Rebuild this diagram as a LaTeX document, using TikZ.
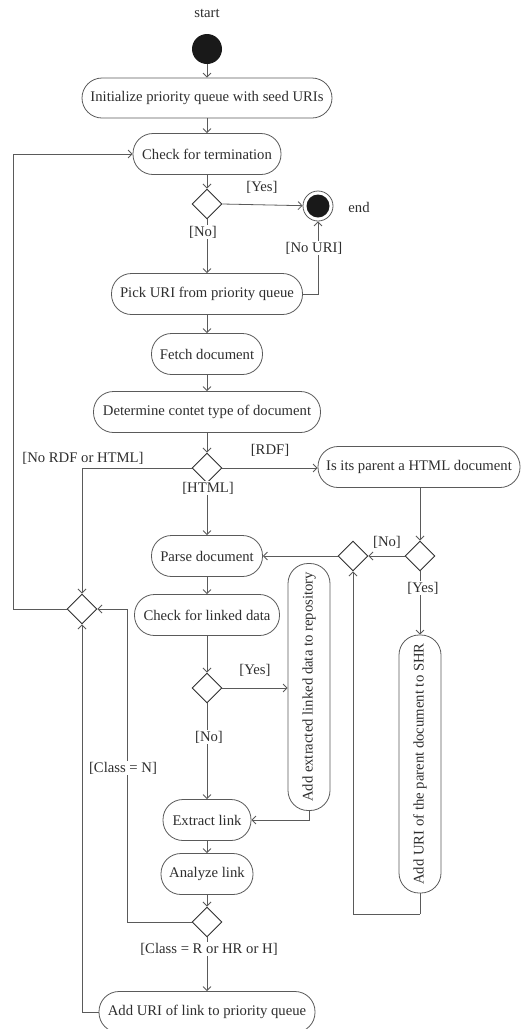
\documentclass[tikz,border=0pt]{standalone}
\usepackage{fontspec}
\setmainfont{Liberation Serif}
\usetikzlibrary{shapes.geometric,arrows.meta,calc}
\definecolor{ln}{HTML}{5A5A5A}
\definecolor{tx}{HTML}{2E2E2E}
\begin{document}
\begin{tikzpicture}[x=1pt,y=1pt,
  font=\fontsize{14.7}{17}\selectfont, text=tx,
  act/.style={draw=ln, line width=0.8pt, rectangle, rounded corners=20pt, minimum height=41pt, inner sep=0pt},
  dec/.style={draw=tx, line width=0.9pt, diamond, minimum width=30pt, minimum height=30pt, inner sep=0pt},
  arr/.style={draw=ln, line width=0.8pt, -{Straight Barb[length=4pt,width=8pt]}},
  ln/.style={draw=ln, line width=0.8pt},
  lbl/.style={inner sep=1pt},
  wlbl/.style={inner sep=1pt, fill=white}]
\useasboundingbox (0,0) rectangle (520,-1029);

% nodes
\node (startlbl) at (207,-13) {start};
\node[circle, fill=black!90, minimum size=30pt, inner sep=0pt] (start) at (207,-49) {};
\node[act, minimum width=250pt, minimum height=40pt] (init) at (207,-98) {Initialize priority queue with seed URIs};
\node[act, minimum width=148pt] (term) at (207,-154) {Check for termination};
\node[dec] (d1) at (207,-204) {};
\node[circle, draw=ln, line width=0.8pt, minimum size=30pt, inner sep=0pt] (end) at (318,-206) {};
\fill[black!90] (end.center) circle (11.5pt);
\node (endlbl) at (359,-207) {end};
\node[act, minimum width=191pt] (pick) at (207,-294) {Pick URI from priority queue};
\node[act, minimum width=111pt] (fetch) at (207,-354) {Fetch document};
\node[act, minimum width=227pt] (det) at (207,-412) {Determine contet type of document};
\node[dec] (d2) at (207,-468) {};
\node[act, minimum width=202pt] (isp) at (419,-467) {Is its parent a HTML document};
\node[dec] (d4) at (420,-556) {};
\node[dec] (d3) at (353,-556) {};
\node[act, minimum width=111pt] (parse) at (207,-556) {Parse document};
\node[dec] (merge) at (82,-609) {};
\node[act, minimum width=145pt] (check) at (207,-615) {Check for linked data};
\node[dec] (d5) at (207,-688) {};
\node[act, rotate=90, minimum width=247pt, minimum height=42pt] (addx) at (309,-687) {Add extracted linked data to repository};
\node[act, rotate=90, minimum width=258pt, minimum height=42pt] (shr) at (420,-764) {Add URI of the parent document to SHR};
\node[act, minimum width=88pt] (extract) at (207,-820) {Extract link};
\node[act, minimum width=92pt] (analyze) at (207,-874) {Analyze link};
\node[dec] (d6) at (207,-922) {};
\node[act, minimum width=216pt] (adduri) at (207,-1012) {Add URI of link to priority queue};

\coordinate (cL) at (13,-609);
\coordinate (cN) at (127,-609);
\coordinate (cS) at (420,-914);
\coordinate (cU) at (318,-294);

% connectors
\draw[arr] (start) -- (init);
\draw[arr] (init) -- (term);
\draw[arr] (term) -- (d1.north);
\draw[arr] (d1.east) -- (end);
\node[lbl] at (262,-187) {[Yes]};
\draw[arr] (d1.south) -- (pick);
\node[wlbl] at (203,-232) {[No]};
\draw[arr] (pick.east) -- (cU) -- (end.south);
\node[wlbl] at (314,-248) {[No URI]};
\draw[arr] (pick) -- (fetch);
\draw[arr] (fetch) -- (det);
\draw[arr] (det) -- (d2.north);
\draw[arr] (d2.west) -| (merge.north);
\node[lbl] at (83,-458) {[No RDF or HTML]};
\draw[arr] (d2.east) -- (isp.west |- d2.east);
\node[lbl] at (270,-450) {[RDF]};
\draw[arr] (d2.south) -- (parse);
\node[fill=white, inner sep=0.5pt] at (208,-488) {[HTML]};
\draw[arr] (d4.north |- isp.south) -- (d4.north);
\draw[arr] (d4.west) -- (d3.east);
\node[lbl] at (387,-542) {[No]};
\draw[arr] (d3.west) -- (parse.east);
\draw[arr] (d4.south) -- (shr);
\node[wlbl] at (423,-588) {[Yes]};
\draw[ln] (shr.west) -- (cS);
\draw[arr] (cS) -| (d3.south);
\draw[arr] (parse) -- (check);
\draw[arr] (check) -- (d5.north);
\draw[arr] (d5.east) -- (d5.east -| addx.north);
\node[lbl] at (255,-670) {[Yes]};
\draw[arr] (d5.south) -- (extract);
\node[wlbl] at (209,-737) {[No]};
\draw[arr] (addx.west) |- (extract.east);
\draw[arr] (extract) -- (analyze);
\draw[arr] (analyze) -- (d6.north);
\draw[ln] (d6.west) -| (cN);
\draw[arr] (cN) -- (merge.east);
\node[wlbl] at (123,-768) {[Class = N]};
\draw[arr] (d6.south) -- (adduri);
\node[wlbl] at (209,-949) {[Class = R or HR or H]};
\draw[arr] (adduri.west) -| (merge.south);
\draw[ln] (merge.west) -- (cL);
\draw[arr] (cL) |- (term.west);
\end{tikzpicture}
\end{document}
